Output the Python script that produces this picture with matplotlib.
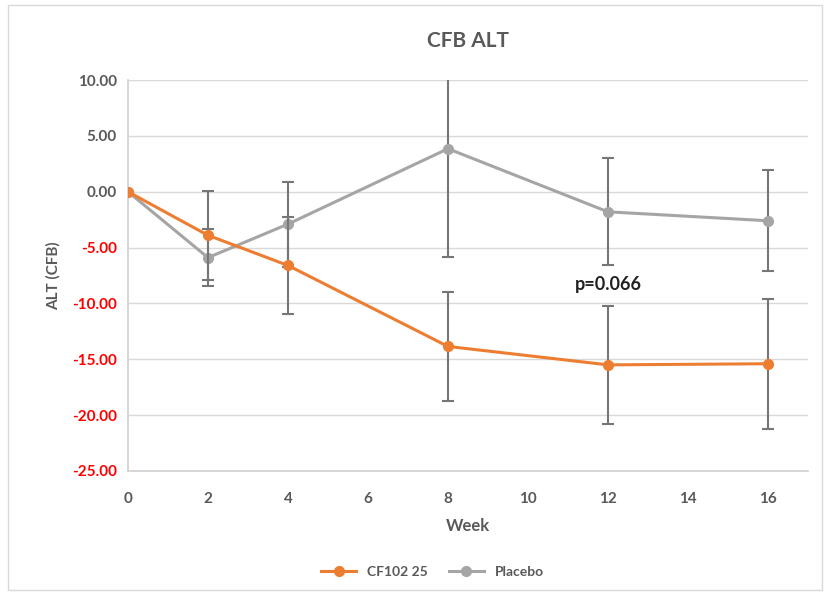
import matplotlib
matplotlib.use("Agg")
import matplotlib.pyplot as plt
from matplotlib.patches import Rectangle
from matplotlib.lines import Line2D

plt.rcParams['font.family'] = ['Lato', 'DejaVu Sans']

weeks = [0, 2, 4, 8, 12, 16]
cf102 = [0.0, -3.9, -6.6, -13.85, -15.5, -15.4]
cf102_err = [0.0, 4.0, 4.35, 4.85, 5.3, 5.8]
placebo = [0.0, -5.9, -2.9, 3.85, -1.8, -2.6]
placebo_err = [0.0, 2.55, 3.8, 9.65, 4.8, 4.5]
yticks = [10, 5, 0, -5, -10, -15, -20, -25]
xticks = [0, 2, 4, 6, 8, 10, 12, 14, 16]

ORANGE = '#ED7D31'
GREY = '#A5A5A5'
TXT = '#595959'

fig = plt.figure(figsize=(8.32, 5.94), dpi=100)
fig.patches.append(Rectangle((0.010, 0.006), 0.978, 0.985, transform=fig.transFigure,
                             fill=False, edgecolor='#d9d9d9', linewidth=1))
ax = fig.add_axes([0.1538, 0.2071, 0.8173, 0.6582])

ax.errorbar(weeks, placebo, yerr=placebo_err, color=GREY, marker='o', markersize=7,
            linewidth=2.2, ecolor='#767676', elinewidth=1.5, capsize=4, capthick=1.5,
            zorder=3)
ax.errorbar(weeks, cf102, yerr=cf102_err, color=ORANGE, marker='o', markersize=7,
            linewidth=2.2, ecolor='#767676', elinewidth=1.5, capsize=4, capthick=1.5,
            zorder=4)

ax.set_xlim(0, 17)
ax.set_ylim(-25, 10)
ax.set_yticks(yticks)
ax.set_yticklabels([f'{v:.2f}' for v in yticks])
for lab, v in zip(ax.get_yticklabels(), yticks):
    lab.set_color('red' if v < 0 else TXT)
    lab.set_fontweight('bold')
    lab.set_fontsize(11)
ax.set_xticks(xticks)
ax.set_xticklabels([str(v) for v in xticks], color=TXT, fontweight='bold', fontsize=11)
ax.tick_params(axis='y', length=0, pad=8)
ax.tick_params(axis='x', length=0, pad=15)

ax.grid(axis='y', color='#d9d9d9', linewidth=1)
ax.set_axisbelow(True)
for s in ['top', 'right']:
    ax.spines[s].set_visible(False)
ax.spines['left'].set_color('#d0d0d0')
ax.spines['bottom'].set_color('#d0d0d0')
ax.spines['left'].set_linewidth(1.2)
ax.spines['bottom'].set_linewidth(1.2)

ax.set_title('CFB ALT', color=TXT, fontweight='bold', fontsize=15, pad=24)
ax.set_xlabel('Week', color=TXT, fontweight='bold', fontsize=12, labelpad=9)
ax.set_ylabel('ALT (CFB)', color=TXT, fontweight='bold', fontsize=11, labelpad=8)
ax.text(12, -8.3, 'p=0.066', ha='center', va='center', fontsize=13, fontweight='bold',
        color='#222222')

handles = [Line2D([], [], color=ORANGE, marker='o', markersize=7, linewidth=2.2),
           Line2D([], [], color=GREY, marker='o', markersize=7, linewidth=2.2)]
leg = fig.legend(handles, ['CF102 25', 'Placebo'], loc='center',
                 bbox_to_anchor=(0.52, 0.037), ncol=2, frameon=False, fontsize=10,
                 handlelength=2.5, columnspacing=1.5)
for t in leg.get_texts():
    t.set_color(TXT)
    t.set_fontweight('bold')

fig.savefig('out.png', dpi=100)
